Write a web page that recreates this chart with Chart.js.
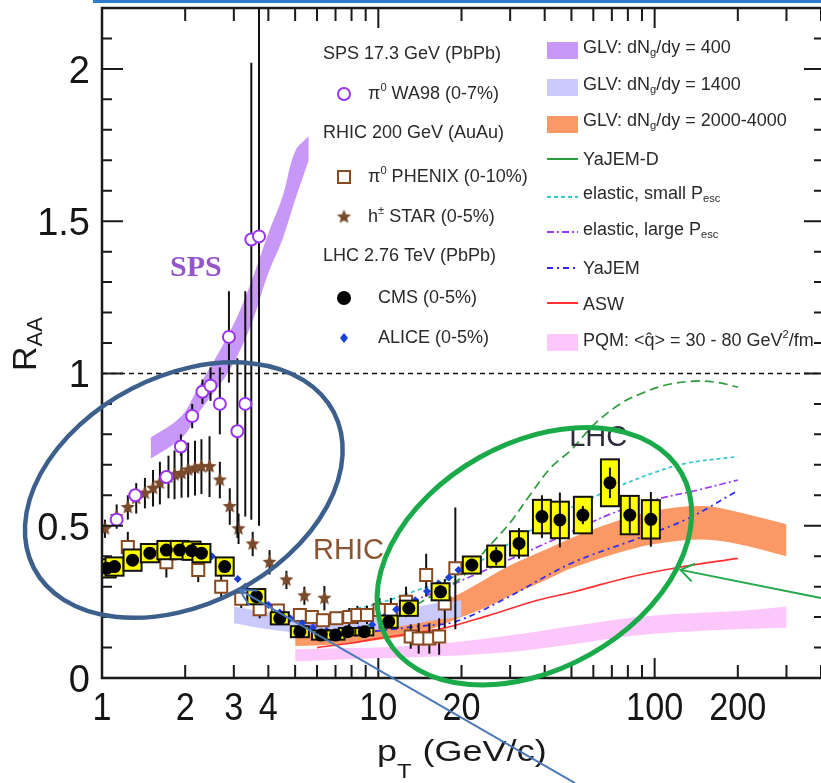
<!DOCTYPE html>
<html>
<head>
<meta charset="utf-8">
<script src="https://cdn.jsdelivr.net/npm/chart.js@4.4.1/dist/chart.umd.min.js"></script>
<style>
  html, body { margin: 0; padding: 0; background: #fff; }
  #wrap { width: 821px; height: 783px; }
</style>
</head>
<body>
<div id="wrap"><canvas id="raa" width="821" height="783"></canvas></div>
<script>
// axis ticks
const xTickLabels = [1, 2, 3, 4, 10, 20, 100, 200];
const yTickLabels = [0, 0.5, 1, 1.5, 2];

// SPS: WA98 pi0
const wa98X = [1.13, 1.32, 1.71, 1.93, 2.12, 2.31, 2.47, 2.67, 2.88, 3.09, 3.30, 3.47, 3.70];
const wa98Y = [0.52, 0.60, 0.66, 0.76, 0.86, 0.94, 0.96, 0.90, 1.12, 0.81, 0.90, 1.44, 1.45];
const wa98Lo = [0.50, 0.58, 0.64, 0.73, 0.82, 0.90, 0.91, 0.80, 0.97, 0.46, 0.53, 0.52, 0.50];
const wa98Hi = [0.54, 0.62, 0.68, 0.80, 0.90, 0.98, 1.02, 1.02, 1.27, 1.05, 1.27, 2.02, 2.40];

// RHIC: PHENIX pi0
const phenixX = [1.24, 1.71, 2.23, 2.70, 3.19, 3.72, 4.33, 5.2, 5.75, 6.3, 7.05, 7.85, 8.4, 9.1, 10.1, 11.1, 12.6, 13.1, 14.0, 14.9, 15.3, 16.6, 17.4, 19.0];
const phenixY = [0.43, 0.38, 0.355, 0.30, 0.26, 0.226, 0.222, 0.207, 0.20, 0.19, 0.196, 0.20, 0.207, 0.207, 0.223, 0.223, 0.25, 0.136, 0.13, 0.338, 0.13, 0.136, 0.245, 0.36];
const phenixErr = [0.05, 0.05, 0.04, 0.04, 0.03, 0.03, 0.02, 0.02, 0.02, 0.02, 0.02, 0.03, 0.03, 0.03, 0.04, 0.04, 0.05, 0.04, 0.05, 0.07, 0.05, 0.06, 0.08, 0.20];

// RHIC: STAR h+-
const starX = [1.025, 1.13, 1.24, 1.33, 1.43, 1.53, 1.62, 1.74, 1.83, 1.94, 2.05, 2.17, 2.29, 2.45, 2.67, 2.90, 3.12, 3.51, 4.04, 4.65, 5.4, 6.38];
const starY = [0.49, 0.53, 0.56, 0.59, 0.607, 0.623, 0.64, 0.66, 0.667, 0.672, 0.683, 0.689, 0.694, 0.694, 0.65, 0.563, 0.49, 0.44, 0.38, 0.322, 0.27, 0.262];
const starErr = [0.03, 0.04, 0.04, 0.05, 0.05, 0.06, 0.07, 0.07, 0.08, 0.08, 0.09, 0.09, 0.09, 0.10, 0.06, 0.06, 0.05, 0.04, 0.04, 0.03, 0.03, 0.04];

// LHC: CMS charged hadrons
const cmsX = [1.04, 1.11, 1.29, 1.49, 1.71, 1.91, 2.11, 2.29, 2.78, 3.62, 4.4, 5.2, 6.2, 7.0, 7.75, 8.9, 10.9, 12.9, 16.8, 21.8, 26.7, 32.3, 39.1, 45.4, 55, 68.9, 81.3, 96.9];
const cmsY = [0.36, 0.366, 0.387, 0.41, 0.42, 0.42, 0.418, 0.41, 0.366, 0.267, 0.196, 0.152, 0.141, 0.141, 0.152, 0.152, 0.185, 0.229, 0.283, 0.371, 0.40, 0.442, 0.53, 0.519, 0.535, 0.641, 0.535, 0.521];
const cmsStat = [0.01, 0.01, 0.01, 0.01, 0.01, 0.01, 0.01, 0.01, 0.01, 0.01, 0.01, 0.01, 0.01, 0.01, 0.01, 0.01, 0.01, 0.015, 0.02, 0.02, 0.03, 0.05, 0.07, 0.09, 0.03, 0.05, 0.06, 0.09];
const cmsSys = [0.03, 0.03, 0.035, 0.03, 0.03, 0.03, 0.03, 0.03, 0.03, 0.025, 0.02, 0.018, 0.015, 0.015, 0.012, 0.012, 0.02, 0.025, 0.028, 0.028, 0.035, 0.04, 0.055, 0.06, 0.06, 0.077, 0.063, 0.063];

// LHC: ALICE charged hadrons
const aliceX = [1.1, 1.3, 1.5, 1.7, 1.9, 2.1, 2.3, 2.5, 2.7, 2.9, 3.1, 3.3, 3.6, 4.0, 4.4, 4.8, 5.3, 5.8, 6.5, 7.5, 8.5, 9.5, 10.5, 11.6, 12.6, 13.6, 15.0, 16.5, 18.0, 19.5];
const aliceY = [0.36, 0.38, 0.40, 0.415, 0.42, 0.42, 0.415, 0.40, 0.38, 0.35, 0.325, 0.30, 0.27, 0.24, 0.215, 0.195, 0.18, 0.165, 0.155, 0.15, 0.16, 0.175, 0.20, 0.225, 0.24, 0.255, 0.285, 0.31, 0.33, 0.355];

// GLV bands
const glv400X = [1.5, 1.8, 2.0, 2.2, 2.5, 2.8, 3.1, 3.5, 4.0, 4.5, 5.0, 5.6];
const glv400Lo = [0.72, 0.765, 0.80, 0.86, 0.93, 0.99, 1.06, 1.17, 1.33, 1.44, 1.57, 1.70];
const glv400Hi = [0.79, 0.835, 0.875, 0.945, 1.03, 1.11, 1.19, 1.31, 1.46, 1.58, 1.73, 1.78];

const glv1400X = [3.0, 4.0, 5.0, 6.5, 8, 10, 13, 16, 20];
const glv1400Lo = [0.18, 0.16, 0.15, 0.145, 0.15, 0.16, 0.175, 0.19, 0.20];
const glv1400Hi = [0.235, 0.215, 0.205, 0.20, 0.205, 0.215, 0.23, 0.245, 0.255];

const glv4000X = [5, 7, 10, 13, 16, 20, 25, 30, 40, 50, 70, 100, 150, 200, 300];
const glv4000Lo = [0.105, 0.11, 0.125, 0.14, 0.165, 0.20, 0.235, 0.27, 0.32, 0.36, 0.405, 0.44, 0.455, 0.44, 0.40];
const glv4000Hi = [0.145, 0.15, 0.165, 0.19, 0.235, 0.28, 0.33, 0.37, 0.42, 0.46, 0.51, 0.55, 0.565, 0.545, 0.505];

// PQM band
const pqmX = [5, 7, 10, 15, 20, 30, 50, 70, 100, 150, 200, 300];
const pqmLo = [0.055, 0.06, 0.065, 0.07, 0.075, 0.085, 0.11, 0.13, 0.145, 0.155, 0.16, 0.165];
const pqmHi = [0.095, 0.098, 0.10, 0.11, 0.12, 0.14, 0.17, 0.19, 0.205, 0.215, 0.22, 0.235];

// model curves
const yajemDX = [8, 11, 14, 17, 20, 25, 30, 35, 42, 50, 60, 75, 90, 110, 140, 170, 200];
const yajemDY = [0.16, 0.19, 0.245, 0.29, 0.33, 0.43, 0.51, 0.595, 0.69, 0.75, 0.83, 0.90, 0.935, 0.962, 0.975, 0.97, 0.955];
const elSmallX = [5, 7, 10, 14, 19, 25, 38, 50, 70, 100, 130, 200];
const elSmallY = [0.20, 0.215, 0.245, 0.29, 0.335, 0.40, 0.50, 0.56, 0.62, 0.675, 0.705, 0.727];
const elLargeX = [5, 7, 10, 14, 20, 30, 50, 70, 100, 140, 200];
const elLargeY = [0.17, 0.18, 0.21, 0.26, 0.32, 0.39, 0.48, 0.54, 0.585, 0.615, 0.65];
const yajemX = [5, 7, 10, 14, 19, 29, 50, 88, 133, 200];
const yajemY = [0.14, 0.145, 0.155, 0.17, 0.185, 0.262, 0.377, 0.46, 0.525, 0.615];
const aswX = [6, 8, 10, 13, 17, 25, 38, 52, 80, 120, 200];
const aswY = [0.10, 0.115, 0.13, 0.145, 0.162, 0.205, 0.256, 0.285, 0.33, 0.362, 0.393];

const unityX = [1, 400];
const unityY = [1, 1];

// ---- helpers ----
const FONT = '"Liberation Sans", Arial, sans-serif';
const pts = (xs, ys) => xs.map((x, i) => ({ x: x, y: ys[i] }));

const C = {
  glv400: 'rgb(200,152,248)',
  glv1400: 'rgb(202,202,250)',
  glv4000: 'rgb(250,152,102)',
  pqm: 'rgb(252,200,252)',
  yajemD: '#2e9b3c',
  elSmall: '#36c6cc',
  elLarge: '#9b3cf0',
  yajem: '#2a2af0',
  asw: '#ff3030',
  wa98: '#9933ee',
  phenix: '#8a4a20',
  star: '#7a4a2c',
  alice: '#1a40d8'
};

function makeStar(size, color) {
  const c = document.createElement('canvas');
  c.width = size; c.height = size;
  const g = c.getContext('2d');
  const r = size / 2 - 1, ri = r * 0.45;
  g.beginPath();
  for (let i = 0; i < 10; i++) {
    const a = -Math.PI / 2 + i * Math.PI / 5;
    const rr = i % 2 ? ri : r;
    g.lineTo(size / 2 + rr * Math.cos(a), size / 2 + rr * Math.sin(a));
  }
  g.closePath();
  g.fillStyle = color;
  g.fill();
  return c;
}
const starImg = makeStar(17, C.star);

function band(xs, lo, hi, color, order) {
  return [
    { data: pts(xs, lo), borderWidth: 0, pointRadius: 0, fill: false, tension: 0.35, order: order },
    { data: pts(xs, hi), borderWidth: 0, pointRadius: 0, fill: '-1', backgroundColor: color, tension: 0.35, order: order }
  ];
}

function curve(xs, ys, color, dash, order) {
  return { data: pts(xs, ys), borderColor: color, borderWidth: 1.7, borderDash: dash, pointRadius: 0,
           fill: false, tension: 0.35, order: order };
}

function richText(ctx, parts, x, y, size) {
  let cx = x;
  parts.forEach(([t, k]) => {
    const s = k ? size * 0.62 : size;
    ctx.font = s + 'px ' + FONT;
    const dy = k === 'sub' ? size * 0.3 : (k === 'sup' ? -size * 0.35 : 0);
    ctx.fillText(t, cx, y + dy);
    cx += ctx.measureText(t).width;
  });
  return cx;
}

function arrow(ctx, x0, y0, x1, y1, color, head, spread) {
  ctx.strokeStyle = color;
  ctx.lineWidth = 2;
  ctx.beginPath(); ctx.moveTo(x0, y0); ctx.lineTo(x1, y1); ctx.stroke();
  const a = Math.atan2(y0 - y1, x0 - x1);
  ctx.beginPath();
  ctx.moveTo(x1 + head * Math.cos(a - spread), y1 + head * Math.sin(a - spread));
  ctx.lineTo(x1, y1);
  ctx.lineTo(x1 + head * Math.cos(a + spread), y1 + head * Math.sin(a + spread));
  ctx.stroke();
}

// error bars and CMS boxes, drawn just before each dataset
const errPlugin = {
  id: 'errbars',
  beforeDatasetDraw(chart, args) {
    const ds = chart.data.datasets[args.index];
    if (!ds.errLo) return;
    const { ctx, chartArea: a } = chart;
    const xs = chart.scales.x, ys = chart.scales.y;
    ctx.save();
    ctx.beginPath(); ctx.rect(a.left, a.top, a.right - a.left, a.bottom - a.top); ctx.clip();
    ds.data.forEach((p, i) => {
      const px = xs.getPixelForValue(p.x);
      if (ds.sys) {
        const y0 = ys.getPixelForValue(p.y + ds.sys[i]);
        const y1 = ys.getPixelForValue(p.y - ds.sys[i]);
        ctx.fillStyle = '#ffff00';
        ctx.fillRect(px - 9, y0, 18, y1 - y0);
        ctx.strokeStyle = '#111';
        ctx.lineWidth = 2;
        ctx.strokeRect(px - 9, y0, 18, y1 - y0);
      }
      ctx.strokeStyle = '#111';
      ctx.lineWidth = 2;
      ctx.beginPath();
      ctx.moveTo(px, ys.getPixelForValue(ds.errLo[i]));
      ctx.lineTo(px, ys.getPixelForValue(ds.errHi[i]));
      ctx.stroke();
    });
    ctx.restore();
  }
};

// frame, ticks, legend, labels and slide annotations
const decorPlugin = {
  id: 'decor',
  afterDraw(chart) {
    const { ctx, chartArea: a } = chart;
    const xs = chart.scales.x, ys = chart.scales.y;
    ctx.save();

    // frame
    ctx.strokeStyle = '#1a1a1a';
    ctx.lineWidth = 2.5;
    ctx.beginPath();
    ctx.moveTo(a.right + 2, a.top); ctx.lineTo(a.left, a.top);
    ctx.lineTo(a.left, a.bottom); ctx.lineTo(a.right + 2, a.bottom);
    ctx.stroke();

    // x ticks (inside, bottom and top)
    ctx.lineWidth = 2;
    [1, 10, 100].forEach(dec => {
      for (let m = 1; m <= 9; m++) {
        const v = m * dec;
        if (v > xs.max) break;
        const px = xs.getPixelForValue(v);
        const len = m === 1 ? 20 : 13;
        ctx.beginPath();
        ctx.moveTo(px, a.bottom); ctx.lineTo(px, a.bottom - len);
        ctx.moveTo(px, a.top); ctx.lineTo(px, a.top + len);
        ctx.stroke();
      }
    });
    // y ticks (inside, left and right)
    for (let i = 0; i <= 22; i++) {
      const py = ys.getPixelForValue(i / 10);
      const major = i % 5 === 0;
      ctx.beginPath();
      ctx.moveTo(a.left, py); ctx.lineTo(a.left + (major ? 21 : 10), py);
      ctx.moveTo(a.right, py); ctx.lineTo(a.right - (major ? 17 : 7), py);
      ctx.stroke();
    }

    // tick labels
    ctx.fillStyle = '#161616';
    ctx.textBaseline = 'alphabetic';
    ctx.textAlign = 'center';
    xTickLabels.forEach(v => {
      ctx.save();
      ctx.translate(xs.getPixelForValue(v), 720);
      ctx.scale(0.9, 1);
      ctx.font = '38px ' + FONT;
      ctx.fillText(String(v), 0, 0);
      ctx.restore();
    });
    ctx.textAlign = 'right';
    ctx.font = '38px ' + FONT;
    yTickLabels.forEach(v => {
      ctx.fillText(String(v), 90, ys.getPixelForValue(v) + 14);
    });

    // axis titles
    ctx.fillStyle = '#1a1a1a';
    ctx.textAlign = 'left';
    ctx.save();
    ctx.translate(377, 761);
    ctx.scale(1.2, 1);
    ctx.font = '30px ' + FONT;
    ctx.fillText('p', 0, 0);
    const pw = ctx.measureText('p').width;
    ctx.font = '20px ' + FONT;
    ctx.fillText('T', pw, 17);
    ctx.font = '30px ' + FONT;
    ctx.fillText('(GeV/c)', 38, 0);
    ctx.restore();

    ctx.save();
    ctx.translate(36, 371);
    ctx.rotate(-Math.PI / 2);
    ctx.font = '34px ' + FONT;
    ctx.fillText('R', 0, 0);
    const rw = ctx.measureText('R').width;
    ctx.font = '22px ' + FONT;
    ctx.fillText('AA', rw, 6);
    ctx.restore();

    // region labels
    ctx.textAlign = 'center';
    ctx.textBaseline = 'middle';
    ctx.fillStyle = '#9457c9';
    ctx.font = 'bold 30px "Liberation Serif", serif';
    ctx.fillText('SPS', xs.getPixelForValue(2.186), ys.getPixelForValue(1.346));
    ctx.fillStyle = '#8a5530';
    ctx.font = '29px ' + FONT;
    ctx.fillText('RHIC', xs.getPixelForValue(7.8), ys.getPixelForValue(0.417));
    ctx.fillStyle = '#2c2c3c';
    ctx.fillText('LHC', xs.getPixelForValue(62.5), ys.getPixelForValue(0.788));

    // legend
    ctx.textAlign = 'left';
    ctx.fillStyle = '#2a2a2a';
    const fs = 18;
    richText(ctx, [['SPS 17.3 GeV (PbPb)', '']], 323, 54, fs);
    richText(ctx, [['π', ''], ['0', 'sup'], [' WA98 (0-7%)', '']], 368, 94, fs);
    richText(ctx, [['RHIC 200 GeV (AuAu)', '']], 323, 133, fs);
    richText(ctx, [['π', ''], ['0', 'sup'], [' PHENIX (0-10%)', '']], 368, 177, fs);
    richText(ctx, [['h', ''], ['±', 'sup'], [' STAR (0-5%)', '']], 368, 217, fs);
    richText(ctx, [['LHC 2.76 TeV (PbPb)', '']], 323, 256, fs);
    richText(ctx, [['CMS (0-5%)', '']], 378, 298, fs);
    richText(ctx, [['ALICE (0-5%)', '']], 378, 338, fs);

    // legend markers column 1
    ctx.lineWidth = 2;
    ctx.strokeStyle = C.wa98;
    ctx.fillStyle = '#fff';
    ctx.beginPath(); ctx.arc(344, 94, 6, 0, 2 * Math.PI); ctx.fill(); ctx.stroke();
    ctx.strokeStyle = C.phenix;
    ctx.fillRect(338, 171, 12, 12); ctx.strokeRect(338, 171, 12, 12);
    ctx.drawImage(starImg, 344 - 8.5, 217 - 8.5);
    ctx.fillStyle = '#000';
    ctx.beginPath(); ctx.arc(344, 298, 7, 0, 2 * Math.PI); ctx.fill();
    ctx.fillStyle = C.alice;
    ctx.beginPath(); ctx.moveTo(344, 333); ctx.lineTo(348, 338); ctx.lineTo(344, 343); ctx.lineTo(340, 338); ctx.closePath(); ctx.fill();

    // legend column 2
    const sx = 547, sw = 31, tx2 = 583;
    const swatch = (y, color) => { ctx.fillStyle = color; ctx.fillRect(sx, y - 8, sw, 17); };
    const seg = (y, color, dash) => {
      ctx.strokeStyle = color; ctx.lineWidth = 2; ctx.setLineDash(dash);
      ctx.beginPath(); ctx.moveTo(sx, y); ctx.lineTo(sx + sw, y); ctx.stroke(); ctx.setLineDash([]);
    };
    swatch(50, C.glv400);
    swatch(87, C.glv1400);
    swatch(124, C.glv4000);
    seg(159, C.yajemD, []);
    seg(197, C.elSmall, [4, 3]);
    seg(232, C.elLarge, [7, 3, 2, 3]);
    seg(268, C.yajem, [6, 4, 2, 4]);
    seg(303, C.asw, []);
    swatch(342, C.pqm);
    ctx.fillStyle = '#2a2a2a';
    richText(ctx, [['GLV: dN', ''], ['g', 'sub'], ['/dy = 400', '']], tx2, 48, fs);
    richText(ctx, [['GLV: dN', ''], ['g', 'sub'], ['/dy = 1400', '']], tx2, 85, fs);
    richText(ctx, [['GLV: dN', ''], ['g', 'sub'], ['/dy = 2000-4000', '']], tx2, 121, fs);
    richText(ctx, [['YaJEM-D', '']], tx2, 160, fs);
    richText(ctx, [['elastic, small P', ''], ['esc', 'sub']], tx2, 194, fs);
    richText(ctx, [['elastic, large P', ''], ['esc', 'sub']], tx2, 230, fs);
    richText(ctx, [['YaJEM', '']], tx2, 269, fs);
    richText(ctx, [['ASW', '']], tx2, 305, fs);
    richText(ctx, [['PQM: <q\u0302> = 30 - 80 GeV', ''], ['2', 'sup'], ['/fm', '']], tx2, 341, fs);

    // slide annotations: ellipses and arrows
    ctx.strokeStyle = '#3d5f8c';
    ctx.lineWidth = 4.5;
    ctx.beginPath();
    ctx.ellipse(xs.getPixelForValue(1.977), ys.getPixelForValue(0.617), 169, 114, -27.5 * Math.PI / 180, 0, 2 * Math.PI);
    ctx.stroke();
    ctx.strokeStyle = '#1aaa4a';
    ctx.lineWidth = 5;
    ctx.beginPath();
    ctx.ellipse(xs.getPixelForValue(36.7), ys.getPixelForValue(0.40), 169, 113, -29.4 * Math.PI / 180, 0, 2 * Math.PI);
    ctx.stroke();

    arrow(ctx, xs.getPixelForValue(51.5), ys.getPixelForValue(-0.345),
          xs.getPixelForValue(3.15), ys.getPixelForValue(0.289), '#4a78b8', 18, 0.5);
    arrow(ctx, xs.getPixelForValue(400), ys.getPixelForValue(0.263),
          xs.getPixelForValue(124), ys.getPixelForValue(0.355), '#22a84a', 16, 0.6);

    // slide rule at the very top
    ctx.strokeStyle = '#2b7bd0';
    ctx.lineWidth = 3;
    ctx.beginPath(); ctx.moveTo(93, 1.5); ctx.lineTo(821, 1.5); ctx.stroke();

    ctx.restore();
  }
};

const datasets = [
  ...band(pqmX, pqmLo, pqmHi, C.pqm, 60),
  ...band(glv4000X, glv4000Lo, glv4000Hi, C.glv4000, 58),
  ...band(glv1400X, glv1400Lo, glv1400Hi, C.glv1400, 56),
  ...band(glv400X, glv400Lo, glv400Hi, C.glv400, 54),
  curve(aswX, aswY, C.asw, [], 45),
  curve(yajemX, yajemY, C.yajem, [6, 4, 2, 4], 44),
  curve(elLargeX, elLargeY, C.elLarge, [7, 3, 2, 3], 43),
  curve(elSmallX, elSmallY, C.elSmall, [4, 3], 42),
  curve(yajemDX, yajemDY, C.yajemD, [9, 5], 41),
  { data: pts(unityX, unityY), borderColor: '#111', borderWidth: 1.5, borderDash: [5, 4], pointRadius: 0, fill: false, order: 40 },
  { data: pts(phenixX, phenixY), showLine: false, pointStyle: 'rect', pointRadius: 8.5, pointBorderWidth: 2,
    pointBorderColor: C.phenix, pointBackgroundColor: '#fff', order: 30,
    errLo: phenixY.map((v, i) => v - phenixErr[i]), errHi: phenixY.map((v, i) => v + phenixErr[i]) },
  { data: pts(starX, starY), showLine: false, pointStyle: starImg, order: 28,
    errLo: starY.map((v, i) => v - starErr[i]), errHi: starY.map((v, i) => v + starErr[i]) },
  { data: pts(wa98X, wa98Y), showLine: false, pointStyle: 'circle', pointRadius: 6, pointBorderWidth: 2,
    pointBorderColor: C.wa98, pointBackgroundColor: '#fff', order: 26, errLo: wa98Lo, errHi: wa98Hi },
  { data: pts(aliceX, aliceY), showLine: false, pointStyle: 'rectRot', pointRadius: 4, pointBorderWidth: 0,
    pointBackgroundColor: C.alice, order: 24 },
  { data: pts(cmsX, cmsY), showLine: false, pointStyle: 'circle', pointRadius: 6.5, pointBorderWidth: 0,
    pointBackgroundColor: '#000', order: 20, sys: cmsSys,
    errLo: cmsY.map((v, i) => v - cmsStat[i]), errHi: cmsY.map((v, i) => v + cmsStat[i]) }
];

new Chart(document.getElementById('raa'), {
  type: 'line',
  data: { datasets: datasets },
  options: {
    responsive: false,
    animation: false,
    layout: { autoPadding: false, padding: { top: 8, left: 0, right: 0, bottom: 0 } },
    plugins: { legend: { display: false }, tooltip: { enabled: false } },
    scales: {
      x: {
        type: 'logarithmic', min: 1, max: 400,
        grid: { display: false, drawTicks: false }, border: { display: false },
        afterBuildTicks: (s) => { s.ticks = xTickLabels.map(v => ({ value: v })); },
        afterFit: (s) => { s.height = 105; s.paddingLeft = 0; s.paddingRight = 0; },
        ticks: { display: false }
      },
      y: {
        type: 'linear', min: 0, max: 2.2,
        grid: { display: false, drawTicks: false }, border: { display: false },
        afterBuildTicks: (s) => { s.ticks = yTickLabels.map(v => ({ value: v })); },
        afterFit: (s) => { s.width = 102; s.paddingTop = 0; s.paddingBottom = 0; },
        ticks: { display: false }
      }
    }
  },
  plugins: [errPlugin, decorPlugin]
});
</script>
</body>
</html>
